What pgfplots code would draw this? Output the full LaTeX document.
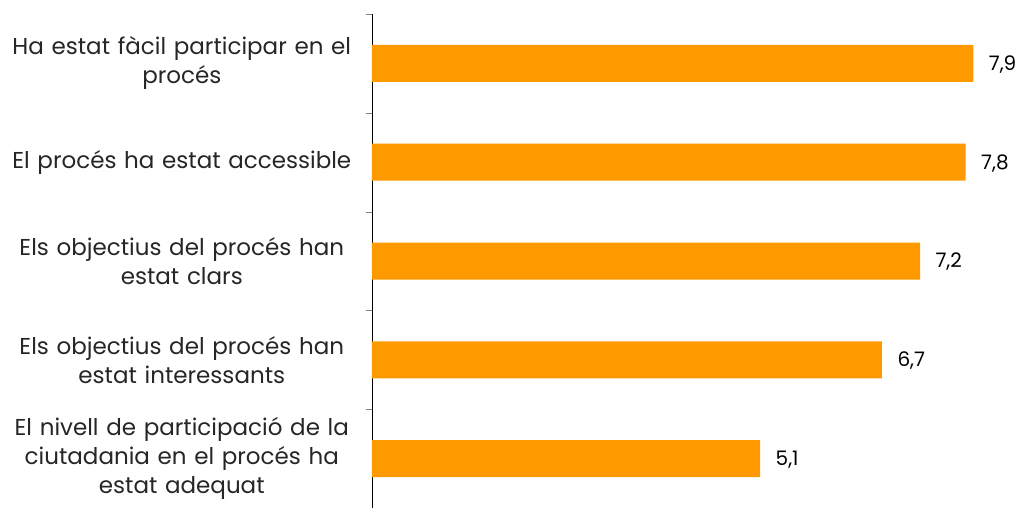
\documentclass[border=0pt]{standalone}
\usepackage{fontspec}
\setmainfont{Poppins}
\usepackage{pgfplots}
\pgfplotsset{compat=1.18}
\definecolor{barorange}{RGB}{255,153,0}
\begin{document}
\begin{tikzpicture}
\begin{axis}[
  at={(0,0)}, anchor=south west,
  scale only axis, width=647pt, height=494pt,
  xbar, bar width=37pt,
  xmin=0, xmax=8.5,
  ymin=-0.5, ymax=4.5, y dir=reverse,
  axis x line=none,
  axis y line*=left,
  axis line style={black},
  ytick={0,...,4},
  yticklabels={{Ha estat fàcil participar en el\\procés},
               {El procés ha estat accessible},
               {Els objectius del procés han\\estat clars},
               {Els objectius del procés han\\estat interessants},
               {El nivell de participació de la\\ciutadania en el procés ha\\estat adequat}},
  major tick length=0pt,
  minor ytick={-0.5,0.5,...,4.5},
  minor tick length=6pt,
  tick align=outside,
  minor tick style={gray},
  yticklabel style={text width=340pt, align=center, inner sep=0pt, xshift=-20pt,
    font=\fontsize{23}{29}\selectfont, text=black!85},
  nodes near coords,
  nodes near coords style={font=\fontsize{20}{24}\selectfont, anchor=west, xshift=12pt, yshift=-1pt, text=black},
  /pgf/number format/.cd, use comma, fixed, fixed zerofill, precision=1, assume math mode=true,
]
\addplot[fill=barorange, draw=none] coordinates {(7.9,0) (7.8,1) (7.2,2) (6.7,3) (5.1,4)};
\end{axis}
\pgfresetboundingbox
\path[use as bounding box] (-372pt,0pt) rectangle (648pt,508pt);
\end{tikzpicture}
\end{document}
